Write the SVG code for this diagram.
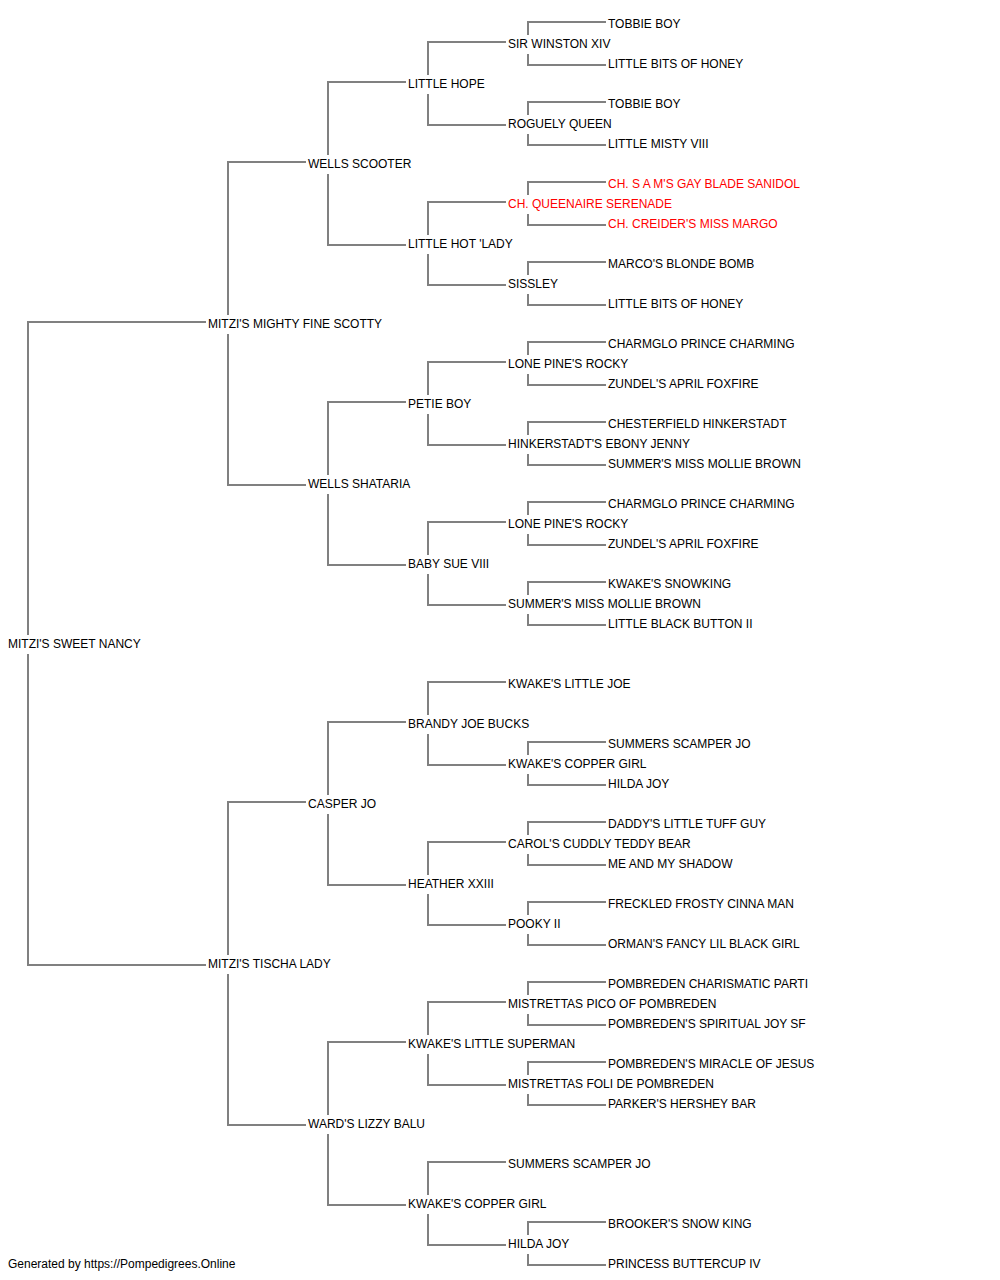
<svg xmlns="http://www.w3.org/2000/svg" width="1000" height="1280" viewBox="0 0 1000 1280">
<style>
text{font-family:"Liberation Sans",Arial,sans-serif;font-size:12px;fill:#000}
text.red{fill:#ff0000}
#connectors path{fill:none;stroke:#808080;stroke-width:2}
</style>
<rect width="1000" height="1280" fill="#fff"/>
<g id="connectors">
<path d="M206,322 H28 V635 M28,654 V965 H206"/>
<path d="M306,162 H228 V315 M228,334 V485 H306"/>
<path d="M306,802 H228 V955 M228,974 V1125 H306"/>
<path d="M406,82 H328 V155 M328,174 V245 H406"/>
<path d="M406,402 H328 V475 M328,494 V565 H406"/>
<path d="M406,722 H328 V795 M328,814 V885 H406"/>
<path d="M406,1042 H328 V1115 M328,1134 V1205 H406"/>
<path d="M506,42 H428 V75 M428,94 V125 H506"/>
<path d="M506,202 H428 V235 M428,254 V285 H506"/>
<path d="M506,362 H428 V395 M428,414 V445 H506"/>
<path d="M506,522 H428 V555 M428,574 V605 H506"/>
<path d="M506,682 H428 V715 M428,734 V765 H506"/>
<path d="M506,842 H428 V875 M428,894 V925 H506"/>
<path d="M506,1002 H428 V1035 M428,1054 V1085 H506"/>
<path d="M506,1162 H428 V1195 M428,1214 V1245 H506"/>
<path d="M606,22 H528 V35 M528,54 V65 H606"/>
<path d="M606,102 H528 V115 M528,134 V145 H606"/>
<path d="M606,182 H528 V195 M528,214 V225 H606"/>
<path d="M606,262 H528 V275 M528,294 V305 H606"/>
<path d="M606,342 H528 V355 M528,374 V385 H606"/>
<path d="M606,422 H528 V435 M528,454 V465 H606"/>
<path d="M606,502 H528 V515 M528,534 V545 H606"/>
<path d="M606,582 H528 V595 M528,614 V625 H606"/>
<path d="M606,742 H528 V755 M528,774 V785 H606"/>
<path d="M606,822 H528 V835 M528,854 V865 H606"/>
<path d="M606,902 H528 V915 M528,934 V945 H606"/>
<path d="M606,982 H528 V995 M528,1014 V1025 H606"/>
<path d="M606,1062 H528 V1075 M528,1094 V1105 H606"/>
<path d="M606,1222 H528 V1235 M528,1254 V1265 H606"/>
</g>
<g id="g0"><g id="n-root"><text x="8" y="648">MITZI'S SWEET NANCY</text></g></g>
<g id="g1">
<g id="n-s"><text x="208" y="328">MITZI'S MIGHTY FINE SCOTTY</text></g>
<g id="n-d"><text x="208" y="968">MITZI'S TISCHA LADY</text></g>
</g>
<g id="g2">
<g id="n-ss"><text x="308" y="168">WELLS SCOOTER</text></g>
<g id="n-sd"><text x="308" y="488">WELLS SHATARIA</text></g>
<g id="n-ds"><text x="308" y="808">CASPER JO</text></g>
<g id="n-dd"><text x="308" y="1128">WARD'S LIZZY BALU</text></g>
</g>
<g id="g3">
<g id="n-sss"><text x="408" y="88">LITTLE HOPE</text></g>
<g id="n-ssd"><text x="408" y="248">LITTLE HOT 'LADY</text></g>
<g id="n-sds"><text x="408" y="408">PETIE BOY</text></g>
<g id="n-sdd"><text x="408" y="568">BABY SUE VIII</text></g>
<g id="n-dss"><text x="408" y="728">BRANDY JOE BUCKS</text></g>
<g id="n-dsd"><text x="408" y="888">HEATHER XXIII</text></g>
<g id="n-dds"><text x="408" y="1048">KWAKE'S LITTLE SUPERMAN</text></g>
<g id="n-ddd"><text x="408" y="1208">KWAKE'S COPPER GIRL</text></g>
</g>
<g id="g4">
<g id="n4-1"><text x="508" y="48">SIR WINSTON XIV</text></g>
<g id="n4-2"><text x="508" y="128">ROGUELY QUEEN</text></g>
<g id="n4-3"><text class="red" x="508" y="208">CH. QUEENAIRE SERENADE</text></g>
<g id="n4-4"><text x="508" y="288">SISSLEY</text></g>
<g id="n4-5"><text x="508" y="368">LONE PINE'S ROCKY</text></g>
<g id="n4-6"><text x="508" y="448">HINKERSTADT'S EBONY JENNY</text></g>
<g id="n4-7"><text x="508" y="528">LONE PINE'S ROCKY</text></g>
<g id="n4-8"><text x="508" y="608">SUMMER'S MISS MOLLIE BROWN</text></g>
<g id="n4-9"><text x="508" y="688">KWAKE'S LITTLE JOE</text></g>
<g id="n4-10"><text x="508" y="768">KWAKE'S COPPER GIRL</text></g>
<g id="n4-11"><text x="508" y="848">CAROL'S CUDDLY TEDDY BEAR</text></g>
<g id="n4-12"><text x="508" y="928">POOKY II</text></g>
<g id="n4-13"><text x="508" y="1008">MISTRETTAS PICO OF POMBREDEN</text></g>
<g id="n4-14"><text x="508" y="1088">MISTRETTAS FOLI DE POMBREDEN</text></g>
<g id="n4-15"><text x="508" y="1168">SUMMERS SCAMPER JO</text></g>
<g id="n4-16"><text x="508" y="1248">HILDA JOY</text></g>
</g>
<g id="g5">
<g id="n5-1"><text x="608" y="28">TOBBIE BOY</text></g>
<g id="n5-2"><text x="608" y="68">LITTLE BITS OF HONEY</text></g>
<g id="n5-3"><text x="608" y="108">TOBBIE BOY</text></g>
<g id="n5-4"><text x="608" y="148">LITTLE MISTY VIII</text></g>
<g id="n5-5"><text class="red" x="608" y="188">CH. S A M'S GAY BLADE SANIDOL</text></g>
<g id="n5-6"><text class="red" x="608" y="228">CH. CREIDER'S MISS MARGO</text></g>
<g id="n5-7"><text x="608" y="268">MARCO'S BLONDE BOMB</text></g>
<g id="n5-8"><text x="608" y="308">LITTLE BITS OF HONEY</text></g>
<g id="n5-9"><text x="608" y="348">CHARMGLO PRINCE CHARMING</text></g>
<g id="n5-10"><text x="608" y="388">ZUNDEL'S APRIL FOXFIRE</text></g>
<g id="n5-11"><text x="608" y="428">CHESTERFIELD HINKERSTADT</text></g>
<g id="n5-12"><text x="608" y="468">SUMMER'S MISS MOLLIE BROWN</text></g>
<g id="n5-13"><text x="608" y="508">CHARMGLO PRINCE CHARMING</text></g>
<g id="n5-14"><text x="608" y="548">ZUNDEL'S APRIL FOXFIRE</text></g>
<g id="n5-15"><text x="608" y="588">KWAKE'S SNOWKING</text></g>
<g id="n5-16"><text x="608" y="628">LITTLE BLACK BUTTON II</text></g>
<g id="n5-19"><text x="608" y="748">SUMMERS SCAMPER JO</text></g>
<g id="n5-20"><text x="608" y="788">HILDA JOY</text></g>
<g id="n5-21"><text x="608" y="828">DADDY'S LITTLE TUFF GUY</text></g>
<g id="n5-22"><text x="608" y="868">ME AND MY SHADOW</text></g>
<g id="n5-23"><text x="608" y="908">FRECKLED FROSTY CINNA MAN</text></g>
<g id="n5-24"><text x="608" y="948">ORMAN'S FANCY LIL BLACK GIRL</text></g>
<g id="n5-25"><text x="608" y="988">POMBREDEN CHARISMATIC PARTI</text></g>
<g id="n5-26"><text x="608" y="1028">POMBREDEN'S SPIRITUAL JOY SF</text></g>
<g id="n5-27"><text x="608" y="1068">POMBREDEN'S MIRACLE OF JESUS</text></g>
<g id="n5-28"><text x="608" y="1108">PARKER'S HERSHEY BAR</text></g>
<g id="n5-31"><text x="608" y="1228">BROOKER'S SNOW KING</text></g>
<g id="n5-32"><text x="608" y="1268">PRINCESS BUTTERCUP IV</text></g>
</g>
<g id="footer"><text x="8" y="1268">Generated by https://Pompedigrees.Online</text></g>
</svg>
